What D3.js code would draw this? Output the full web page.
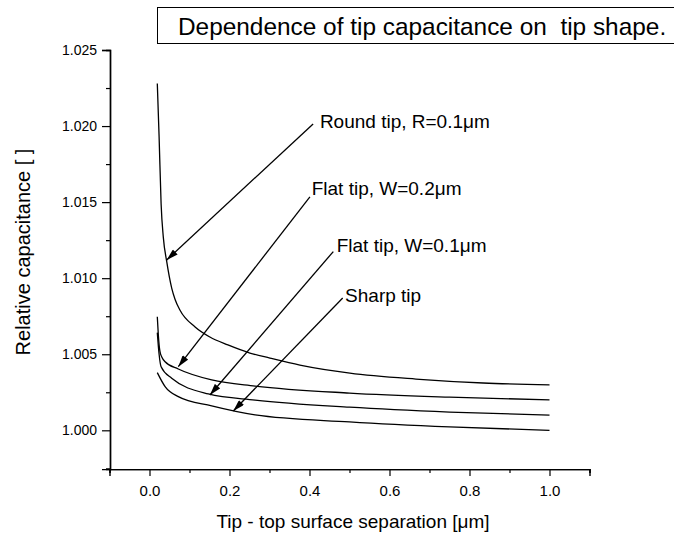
<!DOCTYPE html>
<html>
<head>
<meta charset="utf-8">
<script src="https://cdn.jsdelivr.net/npm/d3@7"></script>
<style>
  body { margin: 0; background: #fff; }
  text { font-family: "Liberation Sans", Arial, sans-serif; fill: #000; }
</style>
</head>
<body>
<div id="chart"></div>
<script>
// values (x in um, relative capacitance)
var roundX = [0.0195, 0.024, 0.029, 0.0345, 0.043, 0.0555, 0.064, 0.076, 0.114, 0.151, 0.196, 0.251, 0.301, 0.376, 0.501, 0.666, 0.834, 1.0];
var roundY = [1.0228, 1.0193, 1.0149, 1.0127, 1.0111, 1.00935, 1.0086, 1.00791, 1.00679, 1.00613, 1.00561, 1.00508, 1.00475, 1.00429, 1.00376, 1.00337, 1.00311, 1.00298];

var flat2X = [0.0195, 0.022, 0.026, 0.031, 0.039, 0.072, 0.1555, 0.264, 0.5, 0.75, 1.0];
var flat2Y = [1.00747, 1.0063, 1.0052, 1.0048, 1.00451, 1.00403, 1.00331, 1.00291, 1.00245, 1.00218, 1.0020];

var flat1X = [0.0195, 0.024, 0.029, 0.0555, 0.147, 0.264, 0.5, 0.75, 1.0];
var flat1Y = [1.00642, 1.0050, 1.00418, 1.00342, 1.00239, 1.00199, 1.00152, 1.0012, 1.0010];

var sharpX = [0.0195, 0.039, 0.072, 0.1555, 0.264, 0.5, 0.75, 1.0];
var sharpY = [1.00379, 1.00287, 1.00221, 1.0016, 1.00101, 1.00055, 1.00022, 1.0000];

var xTicks = [0.0, 0.2, 0.4, 0.6, 0.8, 1.0];
var yTicks = [1.000, 1.005, 1.010, 1.015, 1.020, 1.025];

var labels = ["Round tip, R=0.1\u03bcm", "Flat tip, W=0.2\u03bcm", "Flat tip, W=0.1\u03bcm", "Sharp tip"];
var labelX = [0.426, 0.4055, 0.468, 0.489];
var labelY = [1.01985, 1.01548, 1.01175, 1.00844];
var arrowFromX = [0.409, 0.401, 0.4595, 0.483];
var arrowFromY = [1.02014, 1.01535, 1.01175, 1.0087];
var arrowToX = [0.043, 0.072, 0.151, 0.2095];
var arrowToY = [1.0112, 1.00418, 1.00232, 1.00127];

var title = "Dependence of tip capacitance on\u00a0 tip shape.";

function draw() {
    var w = 674, h = 535;

    var svg = d3.select("#chart").append("svg")
        .attr("width", w)
        .attr("height", h);

    var x = d3.scaleLinear().domain([-0.1, 1.1]).range([109.5, 589.5]);
    var y = d3.scaleLinear().domain([0.99745, 1.025]).range([469.1, 50]);

    svg.append("defs").append("marker")
        .attr("id", "head")
        .attr("viewBox", "0 0 10 6")
        .attr("refX", 10).attr("refY", 3)
        .attr("markerWidth", 13).attr("markerHeight", 7)
        .attr("markerUnits", "userSpaceOnUse")
        .attr("orient", "auto")
        .append("path").attr("d", "M0,0 L10,3 L0,6 Z").attr("fill", "#000");

    // title box
    svg.append("rect")
        .attr("x", 157.5).attr("y", 7.5)
        .attr("width", 530).attr("height", 36)
        .attr("fill", "none").attr("stroke", "#000").attr("stroke-width", 1);
    svg.append("text")
        .attr("x", 178).attr("y", 35)
        .style("font-size", "24.4px")
        .text(title);

    // axes
    var xAxis = d3.axisBottom(x).tickValues(xTicks).tickFormat(d3.format(".1f")).tickSize(7).tickPadding(9);
    var xMinor = d3.axisBottom(x).tickValues(d3.range(-0.1, 1.15, 0.2)).tickFormat("").tickSize(4);
    var yAxis = d3.axisLeft(y).tickValues(yTicks).tickFormat(d3.format(".3f")).tickSize(8).tickPadding(5);
    var yMinor = d3.axisLeft(y).tickValues(d3.range(0.9975, 1.025, 0.005)).tickFormat("").tickSize(4);

    var gx = svg.append("g").attr("transform", "translate(0,469.1)").call(xAxis);
    svg.append("g").attr("transform", "translate(0,469.1)").call(xMinor);
    var gy = svg.append("g").attr("transform", "translate(110,0)").call(yAxis);
    svg.append("g").attr("transform", "translate(110,0)").call(yMinor);

    svg.selectAll(".domain").attr("stroke", "#000").attr("stroke-width", 1.4);
    svg.selectAll(".tick line").attr("stroke", "#000").attr("stroke-width", 1.2);
    gx.selectAll("text").style("font-size", "15px").attr("font-family", null);
    gy.selectAll("text").style("font-size", "14px").attr("font-family", null);

    svg.append("text")
        .attr("x", 353).attr("y", 528)
        .attr("text-anchor", "middle")
        .style("font-size", "19px")
        .text("Tip - top surface separation [\u03bcm]");

    svg.append("text")
        .attr("transform", "translate(30,252) rotate(-90)")
        .attr("text-anchor", "middle")
        .style("font-size", "20px")
        .text("Relative capacitance [ ]");

    // curves
    var series = [[roundX, roundY], [flat2X, flat2Y], [flat1X, flat1Y], [sharpX, sharpY]];
    var line = d3.line()
        .x(function(d) { return x(d[0]); })
        .y(function(d) { return y(d[1]); })
        .curve(d3.curveMonotoneX);

    svg.selectAll("path.curve")
        .data(series)
        .enter()
        .append("path")
        .attr("class", "curve")
        .attr("d", function(s) { return line(d3.zip(s[0], s[1])); })
        .attr("fill", "none")
        .attr("stroke", "#000")
        .attr("stroke-width", 1.3);

    // annotations
    labels.forEach(function(t, i) {
        svg.append("line")
            .attr("x1", x(arrowFromX[i])).attr("y1", y(arrowFromY[i]))
            .attr("x2", x(arrowToX[i])).attr("y2", y(arrowToY[i]))
            .attr("stroke", "#000").attr("stroke-width", 1.3)
            .attr("marker-end", "url(#head)");
        svg.append("text")
            .attr("x", x(labelX[i])).attr("y", y(labelY[i]))
            .style("font-size", "19px")
            .text(t);
    });
}

draw();
</script>
</body>
</html>
